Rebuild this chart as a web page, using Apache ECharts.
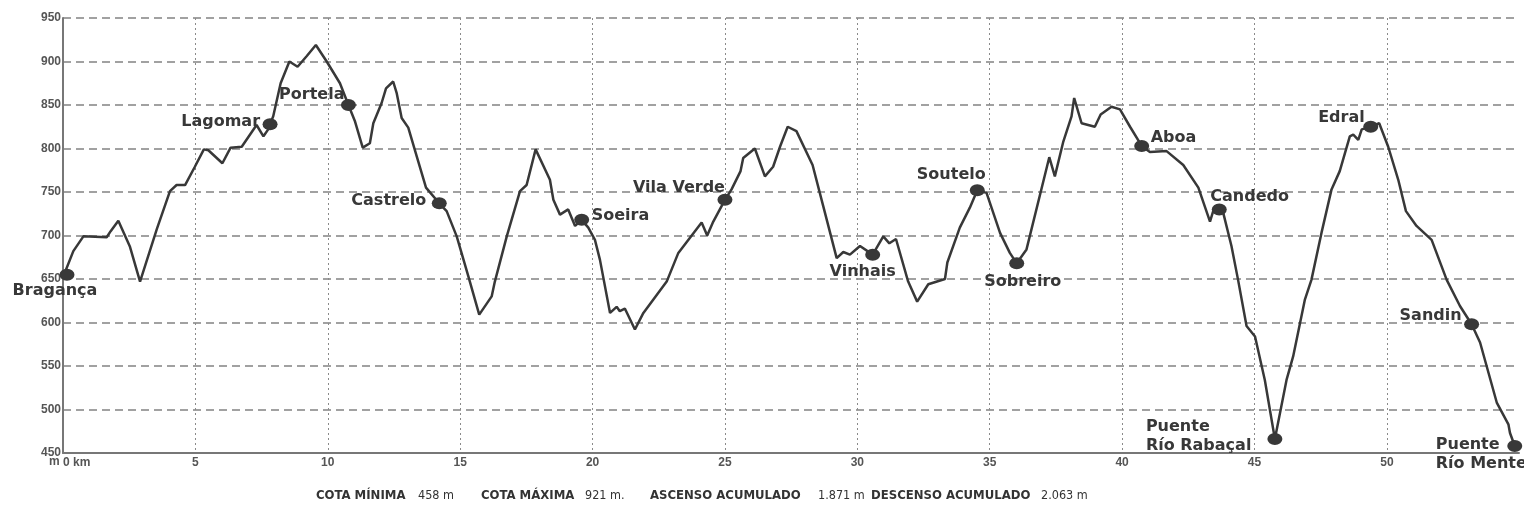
<!DOCTYPE html>
<html>
<head>
<meta charset="utf-8">
<script src="https://cdn.jsdelivr.net/npm/echarts@6/dist/echarts.min.js"></script>
<style>
  body { margin: 0; background: #fff; }
  #chart { width: 1524px; height: 531px; }
</style>
</head>
<body>
<div id="chart"></div>
<script>
// perfil: distancia (km) y altitud (m)
const kms = [
  0.00, 0.39, 0.77, 1.65, 1.80, 2.09, 2.53, 2.91, 3.54, 4.04, 4.29, 4.61, 4.98, 5.32, 5.49, 6.02,
  6.33, 6.75, 7.31, 7.57, 7.75, 7.82, 7.94, 8.22, 8.55, 8.86, 9.20, 9.55, 9.96, 10.46, 10.78, 11.03,
  11.32, 11.59, 11.72, 12.03, 12.20, 12.47, 12.60, 12.79, 13.04, 13.36, 13.71, 14.21, 14.49, 14.87,
  15.31, 15.72, 16.19, 16.31, 16.76, 17.26, 17.51, 17.85, 18.39, 18.52, 18.77, 19.08, 19.34, 19.59,
  19.84, 20.09, 20.28, 20.66, 20.91, 21.03, 21.22, 21.60, 21.92, 22.80, 23.24, 24.12, 24.33, 24.56,
  25.00, 25.25, 25.59, 25.69, 26.13, 26.51, 26.82, 27.08, 27.37, 27.70, 28.31, 28.71, 29.22, 29.47,
  29.72, 30.10, 30.58, 30.98, 31.21, 31.46, 31.92, 32.26, 32.68, 33.31, 33.40, 33.87, 34.25, 34.53,
  34.88, 35.39, 35.76, 36.02, 36.39, 37.25, 37.46, 37.78, 38.09, 38.19, 38.47, 38.97, 39.19, 39.60,
  39.92, 40.30, 40.74, 41.05, 41.68, 42.31, 42.88, 43.32, 43.44, 43.67, 43.82, 44.13, 44.38, 44.70,
  45.02, 45.39, 45.77, 46.21, 46.46, 46.90, 47.15, 47.53, 47.91, 48.22, 48.60, 48.73, 48.92, 49.05,
  49.39, 49.71, 50.05, 50.43, 50.72, 51.12, 51.69, 52.26, 52.76, 53.20, 53.52, 54.15, 54.59, 54.65,
  54.83
];
const elev = [
  652, 682, 699, 698, 705, 717, 687, 647, 707, 751, 758, 758, 779, 799, 798, 783,
  801, 802, 827, 814, 822, 828, 837, 875, 900, 894, 906, 919, 900, 875, 850, 831,
  801, 806, 829, 852, 869, 877, 864, 835, 824, 791, 755, 737, 728, 699,
  653, 609, 630, 647, 699, 751, 758, 799, 764, 741, 724, 730, 711, 718,
  709, 695, 672, 611, 618, 613, 616, 592, 611, 647, 680, 715, 700, 716,
  741, 753, 774, 789, 800, 768, 779, 802, 825, 820, 781, 734, 674, 681,
  678, 688, 678, 699, 691, 696, 647, 624, 644, 650, 669, 709, 732, 752,
  749, 703, 680, 668, 684, 790, 768, 808, 837, 858, 829, 825, 839, 848,
  845, 825, 803, 796, 797, 781, 755, 716, 728, 730, 726, 688, 649, 596,
  584, 534, 466, 534, 561, 626, 649, 703, 753, 774, 814, 816, 810, 822,
  825, 829, 802, 764, 728, 711, 695, 649, 619, 598, 577, 508, 483, 473,
  458
];

// poblaciones
const townNames = ['Bragança', 'Lagomar', 'Portela', 'Castrelo', 'Soeira', 'Vila Verde', 'Vinhais',
  'Soutelo', 'Sobreiro', 'Aboa', 'Candedo', 'Puente\nRío Rabaçal', 'Edral', 'Sandin', 'Puente\nRío Mente'];
const townKm = [0.15, 7.82, 10.78, 14.21, 19.59, 25.00, 30.58, 34.53, 36.02, 40.74, 43.67, 45.77, 49.39, 53.20, 54.83];
const townElev = [655, 828, 850, 737, 718, 741, 678, 752, 668, 803, 730, 466, 825, 598, 458];

// ejes
const xTicks = [0, 5, 10, 15, 20, 25, 30, 35, 40, 45, 50];
const yTicks = [450, 500, 550, 600, 650, 700, 750, 800, 850, 900, 950];

// resumen
const statNames = ['COTA MÍNIMA', 'COTA MÁXIMA', 'ASCENSO ACUMULADO', 'DESCENSO ACUMULADO'];
const statValues = ['458 m', '921 m.', '1.871 m', '2.063 m'];

// colocacion de las etiquetas (align, dx, dy)
const labelPlace = [
  ['center', -12, 16], ['right', -10, -2], ['right', -4, -10], ['right', -13, -2],
  ['left', 10, -4], ['right', 0, -12], ['center', -10, 17], ['center', -26, -15],
  ['center', 6, 19], ['left', 9, -8], ['left', -9, -13], ['left', -129, -3],
  ['right', -6, -9], ['right', -10, -8], ['left', -79, 8]
];
const statX = [[316, 418], [481, 585], [650, 818], [871, 1041]];

let myChart = echarts.init(document.getElementById('chart'));
let option;

const dark = '#383838';
const tickFont = { fontFamily: 'Liberation Sans, Arial, sans-serif', fontWeight: 'bold', fontSize: 12, color: '#555' };
const footFont = '"Liberation Sans Narrow", "DejaVu Sans Condensed", "Liberation Sans", sans-serif';

let profile = kms.map((k, i) => [k, elev[i]]);
let towns = townNames.map((n, i) => ({
  name: n,
  value: [townKm[i], townElev[i]],
  label: {
    align: labelPlace[i][0],
    offset: [labelPlace[i][1], labelPlace[i][2]]
  }
}));

// unidad "m" junto al 0 km
let footer = [{
  type: 'text', left: 49, top: 456,
  style: { text: 'm', font: 'bold 12px Liberation Sans, Arial, sans-serif', fill: '#555' }
}];
statNames.forEach((s, i) => {
  footer.push({
    type: 'text', left: statX[i][0], top: 489,
    style: { text: s, font: 'bold 13px ' + footFont, fill: '#333' }
  });
  footer.push({
    type: 'text', left: statX[i][1], top: 489,
    style: { text: statValues[i], font: '12.5px ' + footFont, fill: '#333' }
  });
});

option = {
  animation: false,
  backgroundColor: '#fff',
  grid: { left: 63, right: 5, top: 18, bottom: 78 },
  xAxis: {
    type: 'value',
    min: 0,
    max: 54.99,
    interval: 5,
    axisLine: { show: true, onZero: false, lineStyle: { color: '#777', width: 2 } },
    axisTick: { show: false },
    axisLabel: Object.assign({}, tickFont, {
      margin: 4,
      alignMinLabel: 'left',
      formatter: v => (xTicks.indexOf(v) < 0 ? '' : (v === 0 ? '0 km' : String(v)))
    }),
    splitLine: { show: true, showMaxLine: false, lineStyle: { type: [2, 3], color: '#8a8a8a', width: 1 } }
  },
  yAxis: {
    type: 'value',
    min: 450,
    max: 950,
    interval: 50,
    axisLine: { show: true, lineStyle: { color: '#777', width: 2 } },
    axisTick: { show: false },
    axisLabel: Object.assign({}, tickFont, {
      margin: 2,
      formatter: v => (yTicks.indexOf(v) < 0 ? '' : String(v))
    }),
    splitLine: { show: true, lineStyle: { type: [8, 5], color: '#838383', width: 1.5 } }
  },
  series: [
    {
      type: 'line',
      data: profile,
      symbol: 'none',
      lineStyle: { color: dark, width: 2.5 },
      z: 3
    },
    {
      type: 'scatter',
      data: towns,
      symbol: 'circle',
      symbolSize: [15, 12],
      itemStyle: { color: dark, opacity: 1 },
      label: {
        show: true,
        position: 'inside',
        formatter: p => p.name,
        verticalAlign: 'middle',
        fontFamily: 'DejaVu Sans, sans-serif',
        fontWeight: 'bold',
        fontSize: 16,
        lineHeight: 19,
        color: '#383838'
      },
      z: 4
    }
  ],
  graphic: footer
};

option && myChart.setOption(option);
</script>
</body>
</html>
